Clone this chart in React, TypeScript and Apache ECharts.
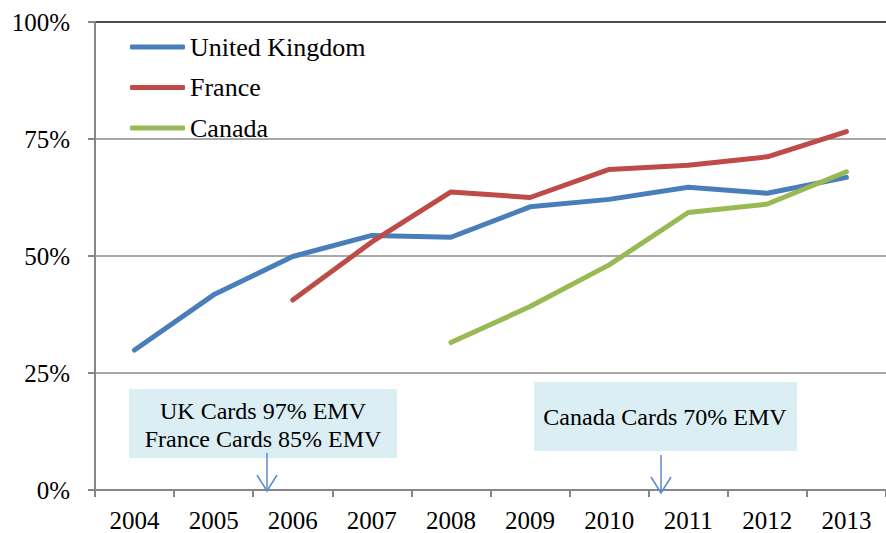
import React, { useEffect, useRef } from "react";
import * as echarts from "echarts";

const years = ["2004", "2005", "2006", "2007", "2008", "2009", "2010", "2011", "2012", "2013"];
const ukValues = [29.9, 41.7, 49.9, 54.4, 54.0, 60.5, 62.1, 64.7, 63.4, 66.8];
const franceValues = [null, null, 40.6, 53.0, 63.7, 62.5, 68.5, 69.4, 71.2, 76.6];
const canadaValues = [null, null, null, null, 31.5, 39.2, 48.1, 59.3, 61.1, 68.0];
const seriesNames = ["United Kingdom", "France", "Canada"];
const seriesColors = ["#4A7EBB", "#BE4B48", "#98B954"];
const annotationLeft = ["UK Cards 97% EMV", "France Cards 85% EMV"];
const annotationRight = "Canada Cards 70% EMV";

const FONT = '"Liberation Serif", "Times New Roman", serif';

export default function App() {
  const ref = useRef<HTMLDivElement>(null);

  useEffect(() => {
    if (!ref.current) return;
    const chart = echarts.init(ref.current, null, { renderer: "svg" });
    const arrowColor = "#5B8BD0";
    const mkArrow = (x: number, y1: number, y2: number) => [
      { type: "line", shape: { x1: x, y1, x2: x, y2 }, style: { stroke: arrowColor, lineWidth: 1.5 }, z: 100 },
      {
        type: "polyline",
        shape: { points: [[x - 10, y2 - 16], [x, y2], [x + 10, y2 - 16]] },
        style: { stroke: arrowColor, lineWidth: 1.5, fill: null },
        z: 100,
      },
    ];
    const data = [ukValues, franceValues, canadaValues];
    chart.setOption({
      animation: false,
      textStyle: { fontFamily: FONT },
      grid: { left: 95, right: -9, top: 22, bottom: 43, containLabel: false },
      legend: {
        orient: "vertical",
        left: 130,
        top: 34,
        padding: 0,
        itemWidth: 55,
        itemHeight: 5,
        itemGap: 14.5,
        icon: "roundRect",
        data: seriesNames,
        textStyle: { fontFamily: FONT, fontSize: 26, color: "#000", lineHeight: 26 },
      },
      xAxis: {
        type: "category",
        data: years,
        boundaryGap: true,
        axisLine: { lineStyle: { color: "#868686", width: 2 } },
        axisTick: { show: true, length: 7, lineStyle: { color: "#868686", width: 2 } },
        axisLabel: { fontFamily: FONT, fontSize: 25, color: "#000", margin: 18 },
        splitLine: { show: false },
      },
      yAxis: {
        type: "value",
        min: 0,
        max: 100,
        interval: 25,
        axisLine: { show: true, lineStyle: { color: "#868686", width: 2 } },
        axisTick: { show: true, length: 7, lineStyle: { color: "#868686", width: 2 } },
        axisLabel: { fontFamily: FONT, fontSize: 25, color: "#000", margin: 25, formatter: "{value}%" },
        splitLine: {
          show: true,
          lineStyle: { color: ["#8C8C8C", "#8C8C8C", "#8C8C8C", "#8C8C8C", "#111"], width: 1.5 },
        },
      },
      series: seriesNames.map((name, i) => ({
        name,
        type: "line",
        data: data[i],
        symbol: "none",
        connectNulls: false,
        color: seriesColors[i],
        lineStyle: { width: 5, color: seriesColors[i], cap: "round", join: "round" },
        z: 10 + i,
      })),
      graphic: [
        { type: "rect", shape: { x: 129, y: 389, width: 268, height: 69 }, style: { fill: "#DBEEF3" }, z: 50 },
        {
          type: "text",
          style: { text: annotationLeft[0], x: 263, y: 411, font: `24px ${FONT}`, textAlign: "center", textVerticalAlign: "middle", fill: "#000" },
          z: 60,
        },
        {
          type: "text",
          style: { text: annotationLeft[1], x: 263, y: 438.5, font: `24px ${FONT}`, textAlign: "center", textVerticalAlign: "middle", fill: "#000" },
          z: 60,
        },
        { type: "rect", shape: { x: 534, y: 382, width: 263, height: 69 }, style: { fill: "#DBEEF3" }, z: 50 },
        {
          type: "text",
          style: { text: annotationRight, x: 665, y: 417, font: `24px ${FONT}`, textAlign: "center", textVerticalAlign: "middle", fill: "#000" },
          z: 60,
        },
        ...mkArrow(267, 453, 491),
        ...mkArrow(661, 455, 493),
      ],
    });
    return () => chart.dispose();
  }, []);

  return (
    <div style={{ position: "absolute", left: 0, top: 0, width: 886, height: 533, overflow: "hidden", background: "#fff" }}>
      <div ref={ref} style={{ width: 886, height: 533 }} />
    </div>
  );
}
